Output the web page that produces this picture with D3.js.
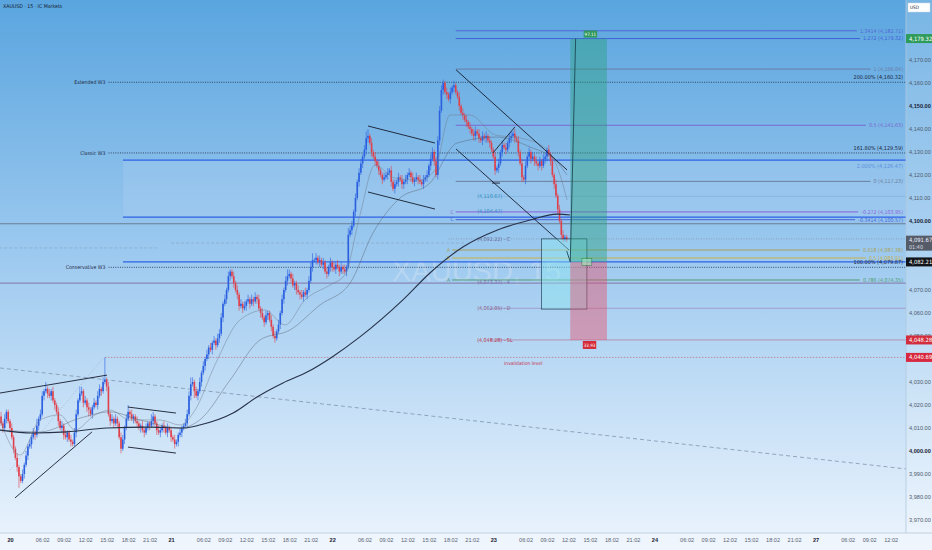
<!DOCTYPE html>
<html><head><meta charset="utf-8">
<script src="https://cdn.jsdelivr.net/npm/d3@7"></script>
<style>
html,body{margin:0;padding:0;overflow:hidden;background:#e9f3fc}
svg{display:block;font-family:"Liberation Sans Narrow","DejaVu Sans Condensed","Liberation Sans",sans-serif}
</style></head><body>
<script>
// XAUUSD 15m, bars counted from the first bar of the 20th (bar 0)
var firstBar = -5;
var closes = [4012,4010,4014,4017,4013,
4010,4006,4001,3997,3993,3989,3987,3990,3994,3998,
4002,4003,4006,4008,4007,4011,4014,4016,4024,4026,
4027,4025,4024,4026,4022,4020,4017,4013,4010,4011,
4007,4006,4008,4005,4004,4003,4008,4016,4022,4025,
4026,4021,4022,4019,4018,4016,4019,4021,4020,4024,
4027,4026,4030,4031,4028,4016,4013,4014,4012,4014,
4012,4006,4001,4005,4010,4014,4017,4016,4014,4015,
4013,4012,4010,4011,4009,4008,4010,4012,4011,4013,
4015,4012,4009,4008,4009,4011,4010,4008,4010,4009,
4006,4005,4003,4004,4007,4008,4010,4011,4012,4016,
4024,4029,4030,4026,4024,4026,4030,4034,4037,4040,
4042,4045,4044,4047,4048,4046,4049,4051,4058,4064,
4066,4070,4076,4078,4076,4073,4070,4068,4063,4064,
4062,4063,4065,4066,4064,4066,4065,4067,4066,4062,
4060,4058,4056,4059,4060,4057,4054,4050,4049,4052,
4055,4060,4066,4070,4074,4076,4077,4075,4072,4073,
4070,4069,4068,4067,4069,4068,4070,4074,4080,4083,
4083,4084,4082,4083,4081,4082,4078,4077,4080,4082,
4080,4079,4081,4080,4078,4080,4079,4078,4080,4094,
4096,4098,4104,4110,4117,4121,4125,4128,4131,4136,
4137,4134,4130,4128,4126,4124,4122,4120,4118,4119,
4120,4121,4122,4117,4114,4116,4117,4119,4118,4116,
4117,4118,4120,4121,4119,4117,4118,4119,4118,4117,
4116,4118,4119,4120,4124,4127,4130,4126,4120,4135,
4148,4157,4160,4156,4155,4153,4156,4158,4159,4156,
4154,4150,4147,4146,4144,4143,4141,4140,4138,4137,
4139,4138,4136,4135,4137,4136,4137,4135,4134,4131,
4128,4122,4123,4125,4130,4133,4132,4131,4134,4136,
4137,4138,4136,4135,4130,4125,4119,4118,4124,4128,
4130,4127,4128,4126,4125,4124,4126,4124,4127,4128,
4131,4129,4126,4120,4116,4111,4105,4100,4094,4092,4093,4091.67];
var wickUp = [2,1,2,1,1,
1,2,1,1,2,1,1,2,1,2, 1,2,1,2,1,3,1,2,2,1, 3,1,2,1,2,1,1,2,1,2, 1,2,1,1,2,1,2,2,1,3,
2,1,2,1,2,1,1,2,1,2, 2,1,2,9.7,1,2,1,2,1,2, 1,1,2,2,1,2,3,1,2,1, 1,2,1,1,2,1,2,1,1,3,
2,1,1,2,1,1,2,1,2,1, 1,1,2,1,1,2,1,1,2,2, 2,3,2,1,2,1,2,1,2,1, 2,1,2,1,2,1,2,2,2,1,
2,1,2,1,1,2,1,2,1,2, 1,2,1,2,1,2,1,2,1,2, 1,2,1,2,1,1,2,1,2,1, 2,1,2,1,2,3,2,1,2,1,
1,2,1,2,1,2,1,2,2,3, 1,2,1,2,1,2,1,2,1,2, 1,2,1,2,1,2,1,2,1,3, 2,2,1,2,1,2,2,1,2,3,
3,1,2,1,2,1,2,1,1,2, 1,2,1,2,1,2,1,2,1,2, 1,2,1,2,1,2,1,2,1,2, 1,2,1,2,1,2,2,1,2,2,
2,2,1.5,1,2,1,2,1,2,1, 1,2,1,2,1,2,1,2,1,2, 2,1,2,1,2,1,2,1,2,1, 1,2,1,2,1,2,1,2,1,2,
2,1,2,1,2,1,2,1,2,1, 2,1,2,1,2,1,2,1,2,2, 1,2,1,2,1,2,1,2,1,2, 1,1];
var wickDn = [1,2,1,2,1,
2,1,2,1,2,5,1,1,2,1, 2,1,2,1,2,1,2,1,1,2, 1,2,1,2,1,2,1,2,1,2, 2,1,2,1,2,1,1,2,1,1,
1,2,1,2,3,1,2,1,1,2, 1,2,1,1,2,1,2,1,2,1, 2,1,2,1,2,1,1,2,1,2, 1,2,1,2,1,2,1,1,2,1,
2,1,2,1,2,1,2,1,2,1, 2,1,2,1,2,1,2,1,1,2, 1,2,1,3,1,2,1,2,1,2, 1,2,1,2,1,2,1,2,1,2,
1,2,1,2,1,2,1,2,2,1, 2,1,2,1,2,1,2,1,2,1, 2,1,2,1,2,1,2,1,2,1, 1,2,1,2,1,2,1,2,1,2,
2,1,2,1,2,1,2,1,1,2, 1,2,1,2,1,2,1,2,1,2, 2,1,2,1,2,1,2,1,2,1, 1,2,1,2,1,2,1,2,1,2,
2,1,2,1,2,1,2,1,2,1, 1,2,1,2,1,2,1,2,1,2, 2,1,2,1,2,1,2,1,2,1, 1,2,1,2,1,2,1,2,1,2,
2,1,2,1,2,1,2,1,2,1, 1,2,1,2,1,2,1,2,1,2, 2,1,2,1,2,1,2,1,2,1, 1,2,1,2,1,2,1,2,1,2,
2,1,2,1,2,1,2,1,2,1, 1,2,1,2,1,2,1,2,1,2, 2,1,2,1,2,1,2,1,2,1, 1,1];

// moving averages, [bar, price]
var maFast = [[-5.6,4013.5],[5.6,3998.3],[16.8,4013.5],[27.9,4015.7],[36.3,4009.1],[47.5,4015.7],[55.9,4017.8],
  [67,4013.5],[83.8,4013.5],[95,4011.3],[103.4,4017.8],[114.5,4037.4],[128.5,4057],[142.5,4061.3],[153.6,4054.8],
  [164.8,4065.7],[178.8,4072.2],[187,4076.5],[195.5,4102.6],[203.9,4124.3],[215,4118.7],[229,4117.8],[237.4,4122.2],
  [245.8,4146.1],[257,4146.1],[271,4137.4],[285,4136.1],[299,4131.7],[307.3,4120],[311.2,4109.1]];
var maMid = [[-5.6,4009.1],[16.8,4008.3],[39.1,4014.3],[55.9,4017],[72.6,4013.5],[95,4010],[106,4013.5],[123,4030.9],
  [139.7,4048.3],[156.4,4052.6],[173.2,4063.5],[190,4073],[202.8,4094.8],[217.9,4110],[234.6,4116.5],[249.7,4133.9],
  [272,4136.5],[290.5,4132.2],[304.5,4126.5],[311.2,4120]];
var maSlow = [[-5.6,4009.1],[12.8,4007.8],[31.8,4008.3],[54,4010],[78,4010.4],[96.6,4010],[106,4011.3],[124.6,4016.5],
  [138,4023.5],[152.5,4029.6],[166,4034.3],[180,4040.9],[195.5,4049.6],[219.5,4065.7],[234.6,4077.4],[253,4088.7],
  [272,4096],[290.5,4100.4],[305.6,4103],[313,4102.6]];

// axes
var tickBars = [0,18,30,42,54,66,78, 90,108,120,132,144,156,168, 180,198,210,222,234,246,258,
  270,288,300,312,324,336,348, 360,378,390,402,414,426,438, 450,468,480,492];
var tickLabels = ["20","06:02","09:02","12:02","15:02","18:02","21:02","21","06:02","09:02","12:02","15:02","18:02","21:02",
  "22","06:02","09:02","12:02","15:02","18:02","21:02","23","06:02","09:02","12:02","15:02","18:02","21:02",
  "24","06:02","09:02","12:02","15:02","18:02","21:02","27","06:02","09:02","12:02"];
var priceTicks = [4170,4160,4150,4140,4130,4120,4110,4100,4070,4060,4050,4030,4020,4010,4000,3990,3980,3970];
var boldTicks = [4150,4100,4000];

// fib extension drawn from the 23rd high
var fibPrices = [4182.71,4179.32,4166.04,4141.63,4117.23,4103.95,4100.57];
var fibLabels = ["1.3414 (4,182.71)","1.272 (4,179.32)","1 (4,166.04)","0.5 (4,141.63)","0 (4,117.23)","-0.272 (4,103.95)","-0.3414 (4,100.57)"];
var fibColors = ["#5466d6","#3f5fd8","#6a7ba6","#7a68cf","#6e7c9c","#8a5fdc","#4a62d6"];
var fibLetters = ["","","","","","C","C"];

// wave 3 targets
var w3Prices = [4160.32,4129.59,4079.87];
var w3Names = ["Extended W3","Classic W3","Conservative W3"];
var w3Labels = ["200.00% (4,160.32)","161.80% (4,129.59)","100.00% (4,079.87)"];

// lower retracement set
var lowPrices = [4087.38,4083.91,4074.35];
var lowLabels = ["0.618 (4,087.38)","0.5 (4,083.91)","0.786 (4,074.35)"];
var lowColors = ["#a8a25a","#c9b24a","#4f9d76"];
var lowLetters = ["A","B","A"];

// abcd labels
var abcdPrices = [4110.67,4104.47,4092.22,4073.37,4062.05,4048.28];
var abcdLabels = ["(4,110.67)","(4,104.47)","(4,092.22) - C","(4,073.37) - 4","(4,062.05) - D","(4,048.28) - SL"];
var abcdColors = ["#2f8fbf","#2f8fbf","#6b6f9a","#7a6aa8","#8c5b86","#b8344e"];

// long position
var entry = 4082.21, target = 4179.32, stop = 4048.28, posFrom = 313, posTo = 333.5;

// trend drawings [bar, price] pairs
var channels = [
  [[-5.6,4025.2],[54.2,4033]],
  [[2.8,3979.6],[45.8,4008.3]],
  [[65.9,4019.1],[92.7,4016.5]],
  [[65.9,4001.7],[92.7,3999.1]],
  [[200,4141.3],[237.4,4133.9]],
  [[200,4112.6],[237.4,4105.2]],
  [[249.2,4165.7],[311.2,4122.2]],
  [[249.2,4131.3],[312.3,4087.4]],
  [[269.8,4129.6],[282.1,4140.9]],
  [[269.3,4116.5],[273.7,4116.5]]
];
var dashTrend = [[-5.6,4036.1],[500.6,3992.2]];

var W = 932, H = 550, plotR = 906, plotB = 533, edgeBar = 500.6;
var x = d3.scaleLinear().domain([0, 450]).range([10, 815.5]);
var y = d3.scaleLinear().domain([4000, 4170]).range([451, 60]);

var svg = d3.select("body").append("svg").attr("width", W).attr("height", H);
var defs = svg.append("defs");
var grad = defs.append("linearGradient").attr("id", "bg")
  .attr("x1", 0).attr("y1", 0).attr("x2", 0).attr("y2", 1);
grad.append("stop").attr("offset", "0%").attr("stop-color", "#5aa5df");
grad.append("stop").attr("offset", "50%").attr("stop-color", "#a0cbf0");
grad.append("stop").attr("offset", "100%").attr("stop-color", "#e8f2fc");
defs.append("clipPath").attr("id", "clip").append("rect")
  .attr("width", plotR).attr("height", plotB);

svg.append("rect").attr("width", W).attr("height", plotB).attr("fill", "url(#bg)");
svg.append("rect").attr("x", plotR).attr("width", W - plotR).attr("height", plotB)
  .attr("fill", "#fff").attr("opacity", 0.18);
svg.append("rect").attr("y", plotB).attr("width", W).attr("height", H - plotB).attr("fill", "#eef5fc");

var g = svg.append("g").attr("clip-path", "url(#clip)");

// watermark
g.append("text").attr("x", 392).attr("y", 281).attr("font-size", 29)
  .attr("font-family", "Liberation Sans, sans-serif")
  .attr("fill", "#e4ecf6").attr("opacity", 0.3).text("XAUUSD, 15");

function hline(p, i0, i1, color, w, dash, op) {
  return g.append("line").attr("x1", x(i0)).attr("x2", x(i1)).attr("y1", y(p)).attr("y2", y(p))
    .attr("stroke", color).attr("stroke-width", w || 1)
    .attr("stroke-dasharray", dash || null).attr("opacity", op == null ? 1 : op);
}
function label(txt, px, py, color, anchor, size, weight) {
  return g.append("text").attr("x", px).attr("y", py).attr("dy", "0.35em")
    .attr("text-anchor", anchor || "start").attr("font-size", size || 5.5)
    .attr("font-weight", weight || null).attr("fill", color).text(txt);
}

// blue zone
g.append("rect").attr("x", x(63.1)).attr("width", x(edgeBar) - x(63.1))
  .attr("y", y(4126.47)).attr("height", y(4101.7) - y(4126.47))
  .attr("fill", "#c8defa").attr("opacity", 0.18).attr("stroke", "#7fa6dc").attr("stroke-width", 0.4);
hline(4126.47, 63.1, edgeBar, "#2f63e6", 1.4);
hline(4101.7, 63.1, edgeBar, "#2f63e6", 1.4);
hline(entry, 63.1, edgeBar, "#2f63e6", 1.2);
label("2.000% (4,126.47)", 903, y(4126.47) + 6, "#5b8fe0", "end");

// full width levels
hline(4098.8, -6, edgeBar, "#5d6b80", 0.8);
hline(4073.0, -6, edgeBar, "#8a86b4", 1.4);
hline(4110.67, 265, edgeBar, "#7fb0d8", 0.6);
hline(4092.22, 245, edgeBar, "#7d8aa0", 0.6, "1,1.5");
hline(4062.05, 268, edgeBar, "#9a8ab8", 0.7);
hline(stop, 268, edgeBar, "#b07a98", 0.7);
hline(4040.69, 53, edgeBar, "#c06a84", 0.7, "1.5,1.5");
g.append("line").attr("x1", x(-6)).attr("x2", x(82)).attr("y1", y(4088.3)).attr("y2", y(4088.3))
  .attr("stroke", "#8aa3c0").attr("stroke-width", 0.6).attr("stroke-dasharray", "3,2");
g.append("line").attr("x1", x(90)).attr("x2", x(255)).attr("y1", y(4090.4)).attr("y2", y(4090.4))
  .attr("stroke", "#8aa3c0").attr("stroke-width", 0.6).attr("stroke-dasharray", "3,2");
g.append("line").attr("x1", x(dashTrend[0][0])).attr("y1", y(dashTrend[0][1]))
  .attr("x2", x(dashTrend[1][0])).attr("y2", y(dashTrend[1][1]))
  .attr("stroke", "#7f93ad").attr("stroke-width", 0.8).attr("stroke-dasharray", "4,3");
g.append("line").attr("x1", x(0)).attr("y1", y(3991.7)).attr("x2", x(52)).attr("y2", y(4040.4))
  .attr("stroke", "#8aa3c0").attr("stroke-width", 0.6).attr("stroke-dasharray", "1,2");

// W3 dotted levels
w3Prices.forEach(function(p, k) {
  hline(p, 55, edgeBar, "#1e2a44", 0.8, "1,1.3");
  label(w3Names[k], x(55) - 3, y(p), "#1e2a44", "end", 5.2);
  label(w3Labels[k], 903, y(p) - 5, "#1a2540", "end", 5.5);
});

// fib levels with right labels
function fibSet(prices, labels, colors, letters, from, w) {
  prices.forEach(function(p, k) {
    var t = label(labels[k], 903, y(p), colors[k], "end", 5.3);
    var tw = t.node().getComputedTextLength();
    hline(p, from, x.invert(903 - tw - 3), colors[k], w);
    if (letters[k]) label(letters[k], x(from) - 2, y(p), colors[k], "end", 5);
  });
}
fibSet(fibPrices, fibLabels, fibColors, fibLetters, 249, 1);
fibSet(lowPrices, lowLabels, lowColors, lowLetters, 247, 1);

abcdPrices.forEach(function(p, k) {
  label(abcdLabels[k], x(261), y(p), abcdColors[k], "start", 5.3);
});
label("invalidation level", x(276), y(4040.69) + 6, "#c8304e", "start", 5);

// candles
var bars = closes.map(function(c, k) {
  var o = k === 0 ? 4015 : closes[k - 1];
  return {i: firstBar + k, o: o, c: c,
    h: Math.max(o, c) + (wickUp[k] || 1), l: Math.min(o, c) - (wickDn[k] || 1)};
});
var bw = 1.6;
var cg = g.append("g");
cg.selectAll("line").data(bars).join("line")
  .attr("x1", function(d) { return x(d.i); }).attr("x2", function(d) { return x(d.i); })
  .attr("y1", function(d) { return y(d.h); }).attr("y2", function(d) { return y(d.l); })
  .attr("stroke", function(d) { return d.c >= d.o ? "#2a5fe0" : "#e0404a"; }).attr("stroke-width", 0.6);
cg.selectAll("rect").data(bars).join("rect")
  .attr("x", function(d) { return x(d.i) - bw / 2; }).attr("width", bw)
  .attr("y", function(d) { return y(Math.max(d.o, d.c)); })
  .attr("height", function(d) { return Math.max(0.7, Math.abs(y(d.o) - y(d.c))); })
  .attr("fill", function(d) { return d.c >= d.o ? "#2a5fe0" : "#e0404a"; });

// moving averages
var ma = d3.line().x(function(d) { return x(d[0]); }).y(function(d) { return y(d[1]); }).curve(d3.curveMonotoneX);
g.append("path").attr("d", ma(maFast)).attr("fill", "none").attr("stroke", "#6f7c90").attr("stroke-width", 0.6).attr("opacity", 0.8);
g.append("path").attr("d", ma(maMid)).attr("fill", "none").attr("stroke", "#5a6578").attr("stroke-width", 0.6).attr("opacity", 0.8);
g.append("path").attr("d", ma(maSlow)).attr("fill", "none").attr("stroke", "#27324a").attr("stroke-width", 1.1);

// channels
channels.forEach(function(s) {
  g.append("line").attr("x1", x(s[0][0])).attr("y1", y(s[0][1])).attr("x2", x(s[1][0])).attr("y2", y(s[1][1]))
    .attr("stroke", "#151c2c").attr("stroke-width", 0.9);
});

// projection box
g.append("rect").attr("x", x(297)).attr("width", x(322.3) - x(297))
  .attr("y", y(4092.22)).attr("height", y(4061.7) - y(4092.22))
  .attr("fill", "#8ee6f0").attr("opacity", 0.45);
g.append("rect").attr("x", x(297)).attr("width", x(322.3) - x(297))
  .attr("y", y(4092.22)).attr("height", y(4061.7) - y(4092.22))
  .attr("fill", "none").attr("stroke", "#24435a").attr("stroke-width", 0.7);

// long position
g.append("rect").attr("x", x(posFrom)).attr("width", x(posTo) - x(posFrom))
  .attr("y", y(target)).attr("height", y(entry) - y(target))
  .attr("fill", "#27a07a").attr("opacity", 0.42);
g.append("rect").attr("x", x(posFrom)).attr("width", x(posTo) - x(posFrom))
  .attr("y", y(entry)).attr("height", y(stop) - y(entry))
  .attr("fill", "#ee4a64").attr("opacity", 0.42);
g.append("path").attr("d", ma.curve(d3.curveLinear)([[311, 4087], [313, entry], [316, target]]))
  .attr("fill", "none").attr("stroke", "#1d4756").attr("stroke-width", 0.9);
g.append("rect").attr("x", x(319.5)).attr("width", x(325) - x(319.5))
  .attr("y", y(entry) - 3.5).attr("height", 7)
  .attr("fill", "#a8e8b8").attr("opacity", 0.6).attr("stroke", "#1b7a3a").attr("stroke-width", 0.7);
g.append("rect").attr("x", x(320.5)).attr("width", x(328) - x(320.5))
  .attr("y", y(target) - 8).attr("height", 7).attr("fill", "#2f9a5c");
label("97.11", x(324.25), y(target) - 4.5, "#fff", "middle", 4.5);
g.append("rect").attr("x", x(320)).attr("width", x(327.5) - x(320))
  .attr("y", y(stop) + 1).attr("height", 8).attr("fill", "#d42a3a");
label("33.93", x(323.75), y(stop) + 5, "#fff", "middle", 4.5);

// header
svg.append("text").attr("x", 3).attr("y", 8).attr("font-size", 5.2).attr("fill", "#131c30")
  .text("XAUUSD · 15 · IC Markets");

// axes
svg.append("line").attr("x1", 0).attr("x2", W).attr("y1", plotB).attr("y2", plotB)
  .attr("stroke", "#b9c7d6").attr("stroke-width", 0.8);
svg.append("line").attr("x1", plotR).attr("x2", plotR).attr("y1", 0).attr("y2", plotB)
  .attr("stroke", "#b0c8de").attr("stroke-width", 0.8);

var ya = svg.append("g").attr("transform", "translate(" + (plotR + 3) + ",0)")
  .call(d3.axisRight(y).tickValues(priceTicks).tickSize(0).tickPadding(0).tickFormat(d3.format(",.2f")));
ya.select(".domain").remove();
ya.selectAll("text").attr("font-size", 5.6).attr("font-family", null)
  .attr("fill", function(d) { return boldTicks.indexOf(d) >= 0 ? "#1a2233" : "#4e5a6c"; })
  .attr("font-weight", function(d) { return boldTicks.indexOf(d) >= 0 ? "bold" : null; });

var xa = svg.append("g").attr("transform", "translate(0," + plotB + ")")
  .call(d3.axisBottom(x).tickValues(tickBars).tickSize(0).tickPadding(5)
    .tickFormat(function(d, k) { return tickLabels[k]; }));
xa.select(".domain").remove();
xa.selectAll("text").attr("font-size", 5.6).attr("font-family", null)
  .attr("fill", function(d, k) { return tickLabels[k].indexOf(":") < 0 ? "#1a2233" : "#5a6475"; })
  .attr("font-weight", function(d, k) { return tickLabels[k].indexOf(":") < 0 ? "bold" : null; });

// price tags on the scale
function tag(p, txt, fill, color, h) {
  var yy = y(p);
  svg.append("rect").attr("x", plotR).attr("y", yy - 4.5).attr("width", W - plotR).attr("height", h || 9).attr("fill", fill);
  svg.append("text").attr("x", plotR + 3).attr("y", yy).attr("dy", "0.35em").attr("font-size", 5.8)
    .attr("fill", color).text(txt);
}
tag(target, d3.format(",.2f")(target), "#2e9b5a", "#fff");
tag(4091.67, "4,091.67", "#555c68", "#eef", 15);
svg.append("text").attr("x", plotR + 3).attr("y", y(4091.67) + 7).attr("dy", "0.35em")
  .attr("font-size", 5.4).attr("fill", "#d8dde6").text("01:40");
tag(entry, d3.format(",.2f")(entry), "#111418", "#fff");
tag(stop, d3.format(",.2f")(stop), "#d22d3c", "#fff");
tag(4040.69, "4,040.69", "#d7283f", "#fff");

// currency box
svg.append("rect").attr("x", plotR + 2).attr("y", 3).attr("width", 22).attr("height", 9)
  .attr("fill", "#fff").attr("stroke", "#cfd8e3").attr("stroke-width", 0.5);
svg.append("text").attr("x", plotR + 4).attr("y", 7.5).attr("dy", "0.35em")
  .attr("font-size", 4.6).attr("fill", "#1a2233").text("USD");
</script></body></html>
